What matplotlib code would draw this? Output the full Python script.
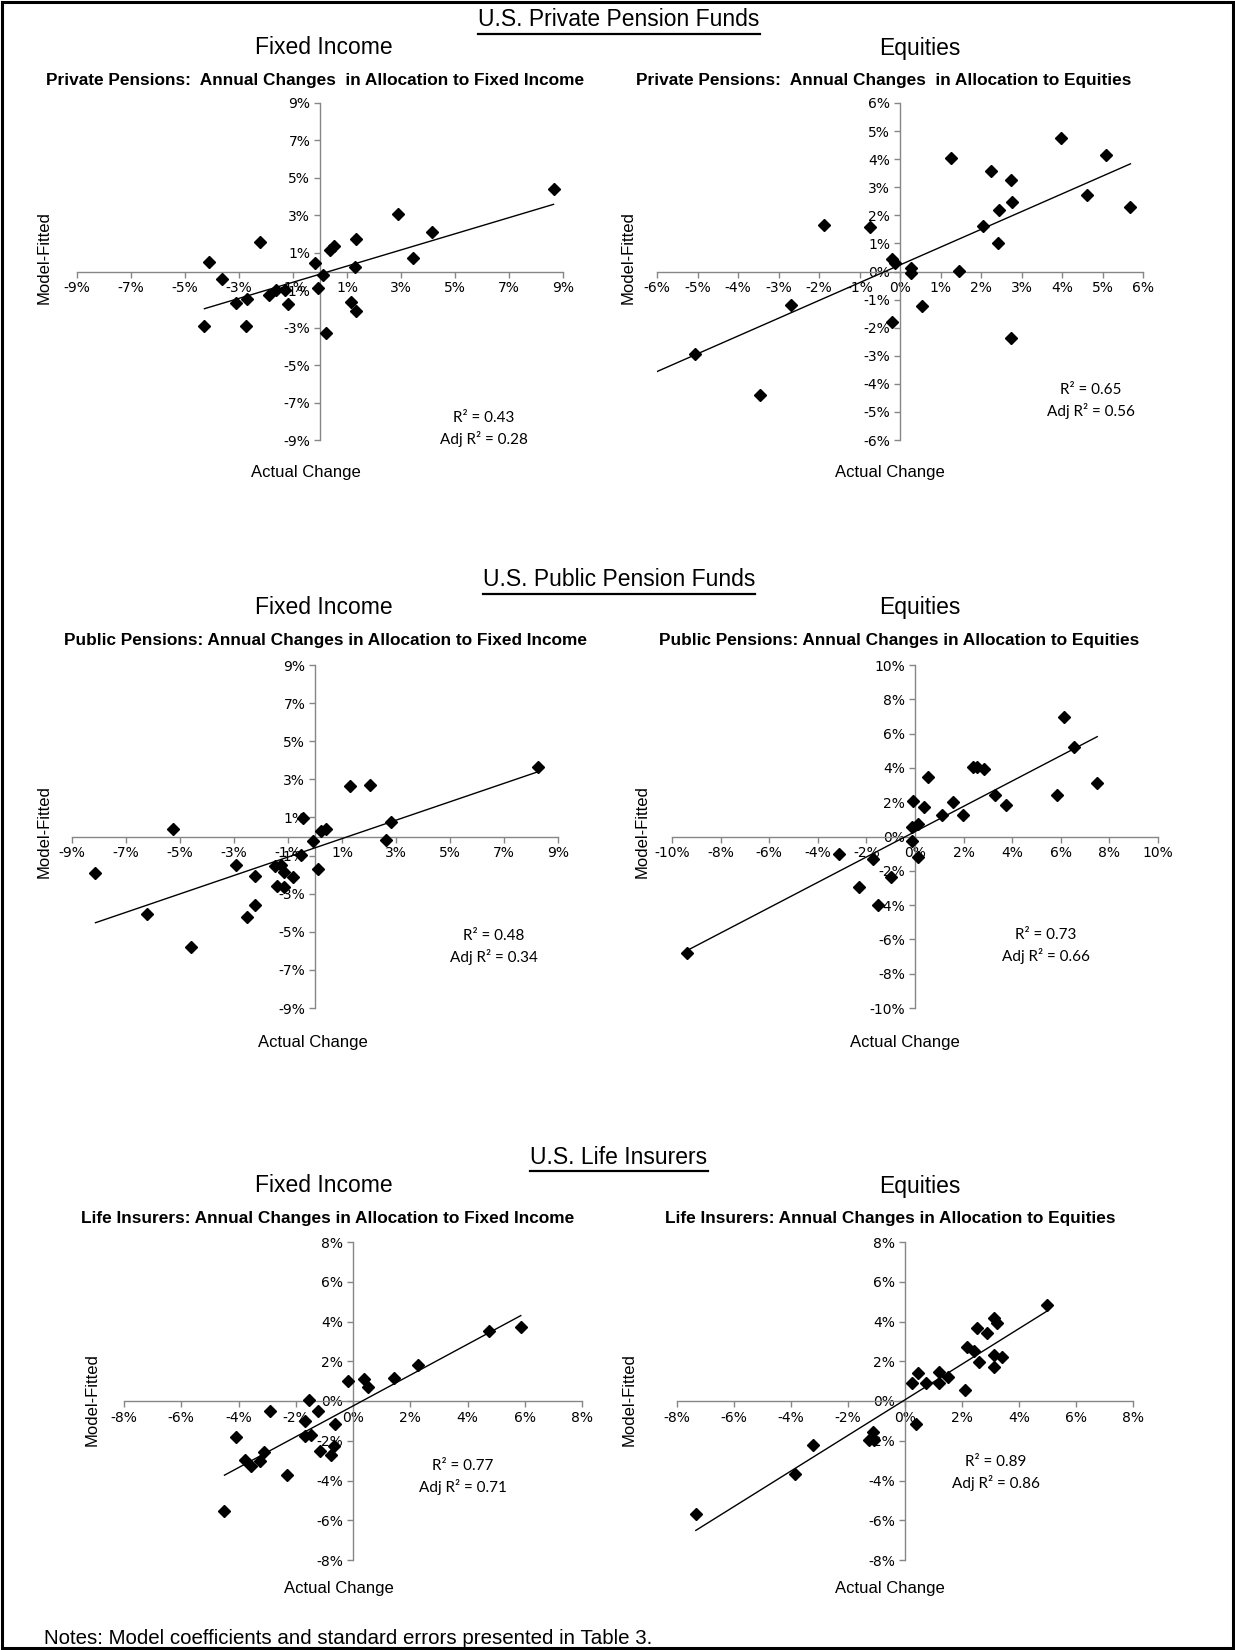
import numpy as np
import matplotlib.pyplot as plt
from matplotlib.patches import Rectangle
from matplotlib.lines import Line2D

W, H = 1235, 1650

# ---- data (percent) ----
# private pensions, fixed income
pp_fi_actual = [8.65, 2.89, 4.13, 3.46, 1.35, 1.31, 0.52, 0.38, -0.18, 0.12, -0.08, 0.22, 1.14,
                1.32, -2.22, -4.10, -3.62, -3.12, -2.71, -1.89, -1.62, -1.31, -1.18, -2.73, -4.28]
pp_fi_fitted = [4.38, 3.08, 2.13, 0.73, 1.74, 0.25, 1.38, 1.16, 0.45, -0.21, -0.88, -3.31, -1.63,
                -2.09, 1.57, 0.50, -0.38, -1.70, -1.48, -1.25, -0.98, -0.98, -1.72, -2.90, -2.93]
# private pensions, equities
pp_eq_actual = [3.98, 5.09, 1.27, 2.25, 2.73, 4.62, 2.77, 2.44, 5.69, 2.04, 2.42, -1.87, -0.73,
                -0.19, -0.12, 0.27, 0.27, 1.46, 0.54, -2.68, -0.19, 2.75, -5.06, -3.45]
pp_eq_fitted = [4.74, 4.16, 4.05, 3.59, 3.25, 2.72, 2.47, 2.20, 2.28, 1.61, 1.02, 1.66, 1.58,
                0.45, 0.30, 0.12, -0.04, 0.01, -1.22, -1.20, -1.79, -2.37, -2.95, -4.39]
# public pensions, fixed income
pub_fi_actual = [8.25, 1.29, 2.02, 2.81, 2.64, -0.46, 0.41, 0.24, -0.08, 0.11, -0.51, -5.26, -8.13,
                 -2.93, -1.47, -1.25, -1.16, -0.80, -2.22, -1.42, -1.15, -2.22, -2.51, -6.24, -4.60]
pub_fi_fitted = [3.63, 2.65, 2.72, 0.75, -0.17, 0.98, 0.41, 0.29, -0.24, -1.70, -0.98, 0.38, -1.91,
                 -1.50, -1.54, -1.47, -1.86, -2.15, -2.09, -2.61, -2.67, -3.62, -4.22, -4.06, -5.79]
# public pensions, equities
pub_eq_actual = [6.12, 6.53, 7.50, 5.83, 2.39, 2.56, 2.85, 0.52, 3.31, 3.74, 1.55, -0.09, 0.37,
                 1.12, 1.99, 0.14, -0.13, -0.14, 0.14, -3.11, -1.73, -0.98, -2.29, -1.53, -9.37]
pub_eq_fitted = [6.96, 5.19, 3.12, 2.40, 4.07, 4.07, 3.96, 3.45, 2.42, 1.85, 2.03, 2.07, 1.73,
                 1.23, 1.23, 0.72, 0.57, -0.25, -1.19, -1.03, -1.29, -2.36, -2.94, -4.02, -6.78]
# life insurers, fixed income
li_fi_actual = [5.86, 4.76, 2.27, 1.43, 0.37, 0.52, -0.16, -1.55, -1.23, -2.89, -1.66, -0.64,
                -1.66, -1.46, -4.09, -0.67, -0.77, -1.16, -3.12, -3.77, -3.57, -3.25, -2.32, -4.49]
li_fi_fitted = [3.71, 3.51, 1.83, 1.16, 1.13, 0.69, 1.03, 0.05, -0.50, -0.52, -1.01, -1.18,
                -1.75, -1.70, -1.82, -2.27, -2.74, -2.54, -2.57, -2.99, -3.28, -3.01, -3.73, -5.52]
# life insurers, equities
li_eq_actual = [4.99, 3.12, 3.23, 2.52, 2.88, 2.19, 2.43, 3.12, 3.39, 2.61, 3.14, 2.09, 1.18,
                1.50, 1.21, 0.47, 0.25, 0.72, 0.40, -1.13, -1.28, -1.10, -3.22, -3.87, -7.34]
li_eq_fitted = [4.81, 4.18, 3.91, 3.67, 3.42, 2.73, 2.53, 2.29, 2.19, 1.95, 1.73, 0.56, 1.48,
                1.20, 0.93, 1.43, 0.89, 0.89, -1.18, -1.57, -1.97, -1.94, -2.19, -3.65, -5.71]

titles = ["Private Pensions:  Annual Changes  in Allocation to Fixed Income",
          "Private Pensions:  Annual Changes  in Allocation to Equities",
          "Public Pensions: Annual Changes in Allocation to Fixed Income",
          "Public Pensions: Annual Changes in Allocation to Equities",
          "Life Insurers: Annual Changes in Allocation to Fixed Income",
          "Life Insurers: Annual Changes in Allocation to Equities"]
r2_vals = ["0.43", "0.65", "0.48", "0.73", "0.77", "0.89"]
adj_r2_vals = ["0.28", "0.56", "0.34", "0.66", "0.71", "0.86"]
axis_ranges = [(-9, 9, 2), (-6, 6, 1), (-9, 9, 2), (-10, 10, 2), (-8, 8, 2), (-8, 8, 2)]
trend_start = [None, -6.0, None, None, None, None]  # None -> from smallest actual value

sections = ["U.S. Private Pension Funds", "U.S. Public Pension Funds", "U.S. Life Insurers"]

series = [(pp_fi_actual, pp_fi_fitted), (pp_eq_actual, pp_eq_fitted),
          (pub_fi_actual, pub_fi_fitted), (pub_eq_actual, pub_eq_fitted),
          (li_fi_actual, li_fi_fitted), (li_eq_actual, li_eq_fitted)]

# ---- layout (pixels in the 1235x1650 picture) ----
plot_boxes = [(77, 563, 103, 440), (657, 1143, 103, 440),
              (72, 558, 665, 1008), (672, 1158, 665, 1008),
              (124, 582, 1242, 1560), (677, 1133, 1242, 1560)]
title_pos = [(315, 80), (884, 80), (325, 641), (899, 641), (328, 1218), (890, 1218)]
ylab_pos = [(44, 258), (628, 258), (44, 832), (642, 832), (92, 1400), (629, 1400)]
xlab_pos = [(306, 473), (890, 473), (313, 1042), (905, 1043), (339, 1589), (890, 1589)]
r2_pos = [(484, 418), (1091, 390), (494, 936), (1046, 935), (463, 1466), (996, 1462)]
section_y = [20, 580, 1157]
sub_y = [48, 608, 1186]

ARIAL = ["Liberation Sans", "DejaVu Sans"]
CALIBRI = ["Lato", "DejaVu Sans"]
GRAY = "#868686"


def fpos(x, y):
    return x / W, 1 - y / H


fig = plt.figure(figsize=(W / 100, H / 100), dpi=100)
fig.patch.set_facecolor("white")

for i, (xs, ys) in enumerate(series):
    x0, x1, y0, y1 = plot_boxes[i]
    ax = fig.add_axes([x0 / W, 1 - y1 / H, (x1 - x0) / W, (y1 - y0) / H])
    lo, hi, step = axis_ranges[i]
    ax.set_xlim(lo, hi)
    ax.set_ylim(lo, hi)
    ticks = np.arange(lo, hi + step / 2, step)
    ax.set_xticks(ticks)
    ax.set_yticks(ticks)
    ax.set_xticklabels([f"{t:.0f}%" for t in ticks], family=CALIBRI, fontsize=11)
    ax.set_yticklabels([f"{t:.0f}%" for t in ticks], family=CALIBRI, fontsize=11)
    ax.set_facecolor("none")
    for s in ["top", "right"]:
        ax.spines[s].set_visible(False)
    for s in ["left", "bottom"]:
        ax.spines[s].set_position(("data", 0))
        ax.spines[s].set_color(GRAY)
        ax.spines[s].set_linewidth(1.0)
    ax.tick_params(direction="out", length=4, width=1, color=GRAY, labelcolor="black", pad=3)

    xa = np.array(xs)
    ya = np.array(ys)
    slope, icpt = np.polyfit(xa, ya, 1)
    xt0 = trend_start[i] if trend_start[i] is not None else xa.min()
    xt = np.array([xt0, xa.max()])
    ax.plot(xt, slope * xt + icpt, color="black", lw=1.0, zorder=3)
    ax.plot(xa, ya, "D", color="black", ms=6.2, zorder=4, clip_on=False)

    fig.text(*fpos(*title_pos[i]), titles[i], ha="center", va="center",
             family=ARIAL, fontsize=12.4, fontweight="bold")
    fig.text(*fpos(*ylab_pos[i]), "Model-Fitted", ha="center", va="center",
             rotation=90, family=ARIAL, fontsize=12)
    fig.text(*fpos(*xlab_pos[i]), "Actual Change", ha="center", va="center",
             family=ARIAL, fontsize=12)
    rx, ry = r2_pos[i]
    fig.text(*fpos(rx, ry), f"R² = {r2_vals[i]}", ha="center", va="center",
             family=CALIBRI, fontsize=11)
    fig.text(*fpos(rx, ry + 21), f"Adj R² = {adj_r2_vals[i]}", ha="center", va="center",
             family=CALIBRI, fontsize=11)

# section headers, underlined
headers = []
for k, name in enumerate(sections):
    t = fig.text(*fpos(619, section_y[k]), name, ha="center", va="center",
                 family=ARIAL, fontsize=16.5)
    headers.append(t)
    fig.text(*fpos(324, sub_y[k]), "Fixed Income", ha="center", va="center",
             family=ARIAL, fontsize=16.5)
    fig.text(*fpos(920, sub_y[k]), "Equities", ha="center", va="center",
             family=ARIAL, fontsize=16.5)

fig.text(*fpos(44, 1638), "Notes: Model coefficients and standard errors presented in Table 3.",
         ha="left", va="center", family=ARIAL, fontsize=14.8)

fig.canvas.draw()
r = fig.canvas.get_renderer()
for t in headers:
    bb = t.get_window_extent(r)
    yl = (bb.y0 - 2) / H
    fig.add_artist(Line2D([bb.x0 / W, bb.x1 / W], [yl, yl], color="black", lw=1.6,
                          transform=fig.transFigure))

fig.add_artist(Rectangle((2 / W, 2 / H), 1 - 4 / W, 1 - 4 / H, transform=fig.transFigure,
                         fill=False, edgecolor="black", lw=2.2))

fig.savefig("out.png", dpi=100)
